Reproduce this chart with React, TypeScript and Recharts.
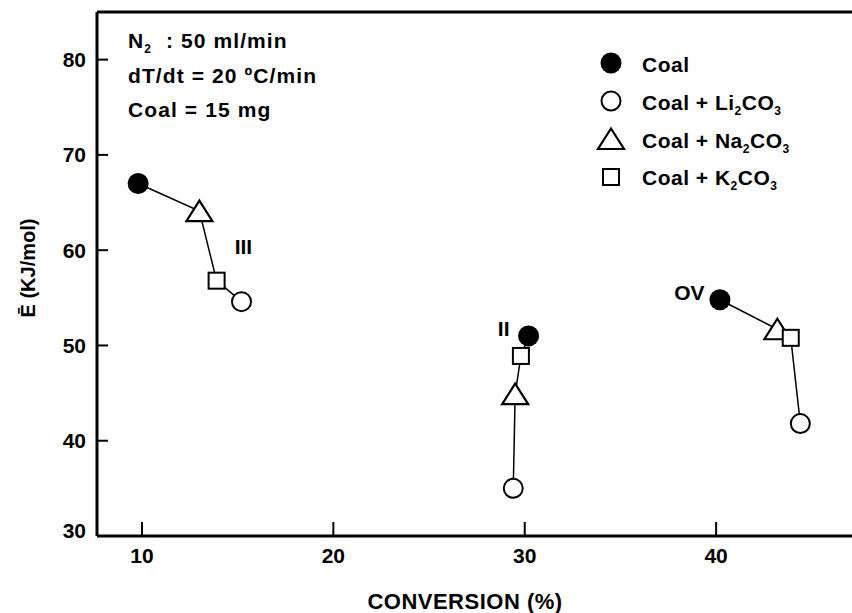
import { ScatterChart, Scatter, XAxis, YAxis, ReferenceLine, Legend, Label } from "recharts";

const FONT = "'Liberation Sans', Arial, Helvetica, sans-serif";

// three reaction regions, one point per sample in each
const regions = ["III", "II", "OV"];
const coalConv = [9.8, 30.2, 40.2];
const coalE = [67.0, 51.0, 54.8];
const liConv = [15.2, 29.4, 44.4];
const liE = [54.6, 35.0, 41.8];
const naConv = [13.0, 29.5, 43.2];
const naE = [64.1, 44.9, 51.7];
const kConv = [13.9, 29.8, 43.9];
const kE = [56.8, 48.9, 50.8];
const regionLabelConv = [15.3, 28.9, 38.6];
const regionLabelE = [60.4, 51.8, 55.6];

const xTicks = [10, 20, 30, 40];
const yTicks = [30, 40, 50, 60, 70, 80];

type Kind = "coal" | "li" | "na" | "k";
const seriesKinds: Kind[] = ["coal", "li", "na", "k"];
const seriesNames = ["Coal", "Coal + Li2CO3", "Coal + Na2CO3", "Coal + K2CO3"];

const toPoints = (xs: number[], ys: number[]) => xs.map((x, i) => ({ x, y: ys[i], region: regions[i] }));
const coalData = toPoints(coalConv, coalE);
const liData = toPoints(liConv, liE);
const naData = toPoints(naConv, naE);
const kData = toPoints(kConv, kE);
const labelData = regions.map((r, i) => ({ x: regionLabelConv[i], y: regionLabelE[i], label: r }));

// connector per region, from highest E to lowest
const connectors = regions.map((_, i) =>
  [coalData[i], naData[i], kData[i], liData[i]].slice().sort((a, b) => b.y - a.y)
);

function Marker({ cx, cy, kind }: { cx: number; cy: number; kind: Kind }) {
  if (kind === "coal") return <circle cx={cx} cy={cy} r={10.5} fill="#000" />;
  if (kind === "li") return <circle cx={cx} cy={cy} r={9.5} fill="#fff" stroke="#000" strokeWidth={2} />;
  if (kind === "na")
    return (
      <path
        d={`M${cx},${cy - 10.5}L${cx + 13},${cy + 10}L${cx - 13},${cy + 10}Z`}
        fill="#fff"
        stroke="#000"
        strokeWidth={2.2}
      />
    );
  return <rect x={cx - 8} y={cy - 8} width={16} height={16} fill="#fff" stroke="#000" strokeWidth={2} />;
}

// digits following a letter become subscripts
function Formula({ text }: { text: string }) {
  const parts = text.split(/(?<=[A-Za-z])(\d)/);
  return (
    <>
      {parts.map((p, i) =>
        /^\d$/.test(p) && i % 2 === 1 ? (
          <span key={i} style={{ fontSize: 12, verticalAlign: -5 }}>{p}</span>
        ) : (
          <span key={i}>{p}</span>
        )
      )}
    </>
  );
}

function XTick({ x, y, payload }: any) {
  return (
    <g>
      <line x1={x} y1={y} x2={x} y2={y - 14} stroke="#000" strokeWidth={2} />
      <text x={x} y={y + 27} textAnchor="middle" fontSize={21} fontWeight={700} fill="#000" fontFamily={FONT}>
        {payload.value}
      </text>
    </g>
  );
}

function YTick({ x, y, payload }: any) {
  const shift = payload.value === 30 ? -6 : 0;
  return (
    <g>
      <line x1={x} y1={y} x2={x + 11} y2={y} stroke="#000" strokeWidth={2} />
      <text x={x - 11} y={y + shift} dy="0.36em" textAnchor="end" fontSize={21} fontWeight={700} fill="#000" fontFamily={FONT}>
        {payload.value}
      </text>
    </g>
  );
}

function LegendBox() {
  return (
    <div style={{ position: "relative", fontFamily: FONT, fontWeight: 700, fontSize: 21, color: "#000", letterSpacing: 0.5 }}>
      {seriesKinds.map((kind, i) => {
        const cy = 63.3 + 37.8 * i;
        return (
          <div key={kind}>
            <svg width={30} height={26} style={{ position: "absolute", left: 596, top: cy - 13, overflow: "visible" }}>
              <Marker cx={15} cy={13} kind={kind} />
            </svg>
            <div style={{ position: "absolute", left: 642, top: cy + 9 - 18.3, lineHeight: "22px", whiteSpace: "nowrap" }}>
              <Formula text={seriesNames[i]} />
            </div>
          </div>
        );
      })}
    </div>
  );
}

const noteLines = ["N2\u00a0\u00a0: 50 ml/min", "dT/dt = 20 \u00baC/min", "Coal = 15 mg"];
const noteBaselines = [48, 83, 117];

export default function App() {
  return (
    <div style={{ position: "absolute", left: 0, top: 0, width: 852, height: 613, background: "#fff", overflow: "hidden" }}>
      <ScatterChart width={852} height={613} margin={{ top: 12, right: 0, bottom: 0, left: 0 }}>
        <XAxis
          type="number"
          dataKey="x"
          domain={[7.65, 47.1]}
          allowDataOverflow
          ticks={xTicks}
          interval={0}
          height={77}
          tickSize={0}
          tickMargin={0}
          tickLine={false}
          axisLine={{ stroke: "#000", strokeWidth: 3 }}
          tick={<XTick />}
        >
          <Label
            content={() => (
              <text x={465} y={609} textAnchor="middle" fontSize={22} fontWeight={700} fill="#000" fontFamily={FONT} letterSpacing={0.5}>
                CONVERSION (%)
              </text>
            )}
          />
        </XAxis>
        <YAxis
          type="number"
          dataKey="y"
          domain={[30, 85]}
          allowDataOverflow
          ticks={yTicks}
          interval={0}
          width={97}
          tickSize={0}
          tickMargin={0}
          tickLine={false}
          axisLine={{ stroke: "#000", strokeWidth: 3 }}
          tick={<YTick />}
        >
          <Label
            content={() => (
              <text
                x={27.5}
                y={268}
                transform="rotate(-90 27.5 268)"
                textAnchor="middle"
                dy="0.36em"
                fontSize={20}
                fontWeight={700}
                fill="#000"
                fontFamily={FONT}
              >
                Ē (KJ/mol)
              </text>
            )}
          />
        </YAxis>
        <ReferenceLine y={85} stroke="#000" strokeWidth={3} />
        <Legend
          layout="horizontal"
          align="center"
          verticalAlign="middle"
          wrapperStyle={{ left: 0, top: 0, width: 0, height: 0 }}
          content={() => <LegendBox />}
        />
        {connectors.map((pts, i) => (
          <Scatter
            key={`line-${i}`}
            data={pts}
            line={{ stroke: "#000", strokeWidth: 1.5 }}
            shape={() => <g />}
            legendType="none"
            isAnimationActive={false}
          />
        ))}
        <Scatter name="Coal" data={coalData} shape={(p: any) => <Marker cx={p.cx} cy={p.cy} kind="coal" />} isAnimationActive={false} />
        <Scatter name="Coal + Li2CO3" data={liData} shape={(p: any) => <Marker cx={p.cx} cy={p.cy} kind="li" />} isAnimationActive={false} />
        <Scatter name="Coal + Na2CO3" data={naData} shape={(p: any) => <Marker cx={p.cx} cy={p.cy} kind="na" />} isAnimationActive={false} />
        <Scatter name="Coal + K2CO3" data={kData} shape={(p: any) => <Marker cx={p.cx} cy={p.cy} kind="k" />} isAnimationActive={false} />
        <Scatter
          data={labelData}
          legendType="none"
          isAnimationActive={false}
          shape={(p: any) => (
            <text x={p.cx} y={p.cy} dy="0.36em" textAnchor="middle" fontSize={21} fontWeight={700} fill="#000" fontFamily={FONT}>
              {p.payload.label}
            </text>
          )}
        />
      </ScatterChart>
      {noteLines.map((line, i) => (
        <div
          key={i}
          style={{
            position: "absolute",
            left: 128,
            top: noteBaselines[i] - 18.3,
            lineHeight: "22px",
            fontFamily: FONT,
            fontWeight: 700,
            fontSize: 21,
            letterSpacing: 1.1,
            whiteSpace: "nowrap",
            color: "#000",
          }}
        >
          <Formula text={line} />
        </div>
      ))}
    </div>
  );
}
